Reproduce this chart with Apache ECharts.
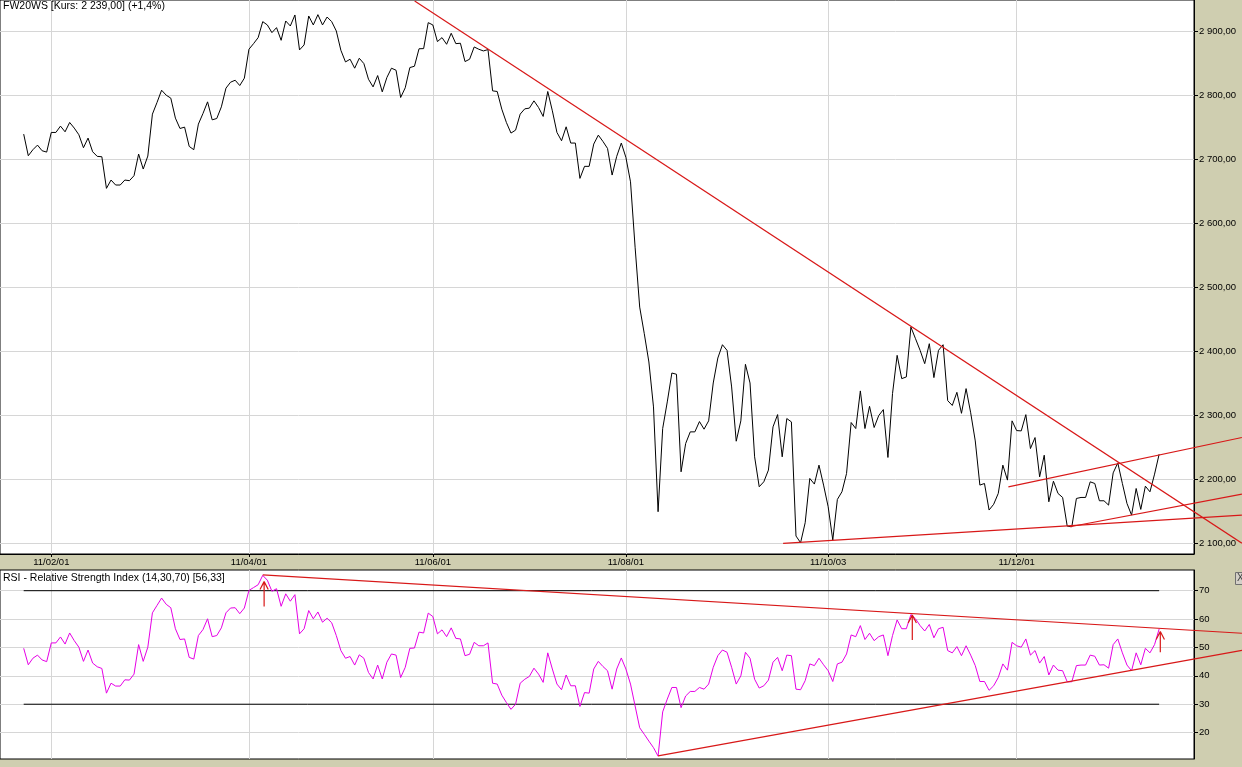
<!DOCTYPE html>
<html><head><meta charset="utf-8">
<script src="https://cdn.jsdelivr.net/npm/echarts@6/dist/echarts.min.js"></script>
<style>html,body{margin:0;padding:0;background:#CFCEB0;}#c{width:1242px;height:767px;}</style>
</head><body><div id="c"></div>
<script>
// ---- data (trading-day index on x) ----
const price = [
2739.6,2705.8,2715.2,2722.4,2713.6,2711.5,2742.2,2742.2,2752.1,2743.2,
2757.8,2749.0,2738.6,2718.3,2733.4,2712.0,2704.8,2704.2,2654.8,2667.8,
2660.0,2660.0,2667.8,2666.8,2674.6,2708.4,2685.0,2705.3,2770.8,2789.0,
2808.2,2800.4,2795.8,2764.6,2748.4,2750.5,2720.4,2715.2,2755.2,2771.8,
2790.0,2761.9,2764.0,2782.2,2811.4,2820.7,2823.8,2815.5,2827.0,2872.2,
2881.0,2890.4,2915.4,2910.2,2898.2,2906.0,2886.2,2916.4,2908.6,2925.8,
2871.2,2879.0,2924.2,2910.2,2926.3,2910.2,2922.6,2915.4,2900.8,2870.6,
2852.4,2856.6,2842.6,2858.2,2849.8,2825.4,2813.4,2831.1,2805.6,2828.0,
2842.6,2839.4,2796.8,2812.0,2843.6,2845.7,2873.0,2873.2,2913.8,2910.2,
2884.2,2890.4,2880.0,2897.2,2881.0,2881.6,2853.0,2856.6,2875.8,2872.2,
2869.6,2871.7,2807.2,2806.2,2778.6,2757.8,2741.2,2745.8,2770.8,2779.1,
2780.2,2791.6,2781.2,2767.2,2806.2,2776.0,2742.2,2729.2,2751.0,2725.6,
2725.6,2670.4,2689.2,2689.2,2724.0,2738.0,2728.2,2717.2,2675.6,2704.8,
2725.6,2703.2,2665.0,2562.8,2469.2,2427.6,2383.4,2313.2,2149.4,2279.4,
2321.0,2366.2,2364.2,2211.8,2256.0,2274.2,2274.2,2290.3,2278.4,2291.4,
2350.6,2389.6,2410.4,2401.6,2344.4,2259.6,2291.4,2379.8,2350.6,2235.2,
2188.4,2196.2,2214.4,2282.0,2301.2,2235.2,2295.0,2289.8,2111.4,2101.0,
2132.2,2201.4,2192.6,2222.2,2191.0,2157.2,2105.2,2168.6,2180.6,2209.2,
2288.8,2279.4,2338.2,2279.4,2314.2,2281.0,2299.7,2309.0,2234.2,2334.0,
2393.8,2357.4,2360.0,2438.0,2419.8,2401.6,2380.8,2412.0,2359.0,2401.6,
2410.4,2323.0,2315.5,2336.0,2303.2,2341.8,2304.0,2260.0,2191.0,2193.5,
2152.0,2161.0,2178.0,2222.2,2198.8,2291.4,2276.2,2275.7,2301.1,2248.1,
2265.3,2203.9,2237.7,2164.9,2197.1,2177.9,2171.7,2126.9,2125.9,2170.1,
2171.7,2171.7,2196.1,2193.5,2166.5,2166.5,2159.7,2210.1,2225.7,2193.5,
2162.3,2144.1,2185.7,2153.0,2189.3,2180.5,2208.1,2239.3];
const rsi = [
49.7,43.9,46.2,47.3,45.6,45.0,51.6,51.6,53.7,51.2,
55.1,52.4,50.1,45.1,49.1,44.5,43.2,42.6,33.9,37.4,
36.4,36.4,38.6,38.5,40.6,51.0,45.1,50.1,62.2,64.8,
67.4,65.2,64.0,56.6,52.8,53.0,46.5,45.9,54.2,56.3,
60.1,53.8,54.2,56.9,62.2,63.9,64.0,61.9,63.9,70.1,
71.1,72.1,75.4,73.7,69.8,70.7,64.5,68.9,66.3,68.6,
54.8,56.6,63.0,60.1,62.5,58.9,60.3,58.7,54.2,48.9,
46.2,46.8,43.8,47.4,46.2,41.2,38.9,43.8,38.9,44.8,
47.7,47.3,39.4,43.0,49.7,49.8,55.4,55.1,62.1,60.9,
54.8,56.2,53.8,56.9,53.2,53.0,47.1,47.6,51.8,50.6,
50.6,51.6,37.4,37.1,33.2,30.6,28.2,30.0,37.4,38.8,
39.8,42.7,40.6,37.7,48.1,42.4,37.1,35.1,40.3,36.5,
36.5,29.2,34.1,33.9,42.4,45.1,43.3,41.8,35.3,42.4,
46.3,42.4,37.1,29.4,21.7,19.4,17.0,14.7,11.7,27.3,
31.8,35.9,35.9,28.8,32.9,34.5,34.5,35.9,35.3,37.1,
43.0,47.1,49.1,48.3,43.0,37.1,40.0,48.3,46.2,38.8,
35.7,36.5,38.5,44.8,46.5,41.8,47.3,47.1,35.3,35.1,
38.3,44.2,43.6,46.2,43.9,41.8,38.0,44.2,44.8,47.7,
54.4,53.8,57.7,52.8,55.0,52.4,53.8,54.4,47.1,54.2,
59.7,56.6,56.6,61.6,60.1,57.7,55.8,58.1,53.4,56.6,
57.1,48.9,48.1,50.3,47.1,50.6,47.3,43.6,38.0,38.0,
34.9,36.5,39.4,44.2,42.0,51.8,50.6,50.1,53.0,47.3,
48.9,44.5,46.8,40.3,43.8,42.0,41.8,37.9,37.9,43.6,
43.8,43.8,47.3,46.9,43.8,43.9,42.7,51.0,53.0,48.1,
43.8,41.8,48.1,43.9,49.7,48.1,51.0,56.5];
const dateTickIndex = [6, 49, 89, 131, 175, 216];
const dateTickLabels = ['11/02/01','11/04/01','11/06/01','11/08/01','11/10/03','11/12/01'];
const priceTicks = [2100,2200,2300,2400,2500,2600,2700,2800,2900];
const rsiTicks = [20,30,40,50,60,70];
const rsiLevels = [30,70];
const priceTrendLines = [
  [[85.05,2947.6],[265.0,2100.2]],
  [[165.2,2100.0],[265.0,2144.1]],
  [[227.6,2125.9],[265.0,2176.9]],
  [[214.2,2188.3],[265.0,2265.4]]
];
const rsiTrendLines = [
  [[52.0,75.6],[265.0,55.0]],
  [[138.0,11.8],[265.0,49.0]]
];
const rsiArrows = [ [52.3,64.4,73.2], [193.3,52.6,61.4], [247.25,48.3,55.6] ]; // [index, from, tip]
const titleText = 'FW20WS [Kurs: 2 239,00] (+1,4%)';
const rsiTitleText = 'RSI - Relative Strength Index (14,30,70) [56,33]';

// ---- chart ----
const FONT = 'Liberation Sans';
const RED = '#D81818';
const GRIDC = '#D6D6D6';
const PLOT_W = 1194, FULL_W = 1242;
const xMin = -5.155, xMax = 254.58;
const xMaxFull = xMin + (xMax - xMin) * FULL_W / PLOT_W; // same scale, extended to the page edge
const pMin = 2083.3, pMax = 2949.2, rMin = 10.70, rMax = 77.29;
function fmtPrice(v){ const s = String(Math.round(v)); return s.slice(0,-3) + ' ' + s.slice(-3) + ',00'; }
const last = price.length - 1;

const series = [];
series.push({type:'line', xAxisIndex:0, yAxisIndex:0, data: price.map((v,i)=>[i,v]), symbol:'none',
  lineStyle:{color:'#000', width:1}, z:3});
priceTrendLines.forEach(l => series.push({type:'line', xAxisIndex:2, yAxisIndex:2, data:l, symbol:'none',
  lineStyle:{color:RED, width:1.2}, z:5}));
rsiLevels.forEach(lv => series.push({type:'line', xAxisIndex:1, yAxisIndex:1, data:[[0,lv],[last,lv]], symbol:'none',
  lineStyle:{color:'#000', width:1}, z:2}));
series.push({type:'line', xAxisIndex:1, yAxisIndex:1, data: rsi.map((v,i)=>[i,v]), symbol:'none',
  lineStyle:{color:'#E600E6', width:1}, z:3});
rsiTrendLines.forEach(l => series.push({type:'line', xAxisIndex:3, yAxisIndex:3, data:l, symbol:'none',
  lineStyle:{color:RED, width:1.2}, z:5}));
rsiArrows.forEach(a => {
  const [x, lo, tip] = a;
  series.push({type:'line', xAxisIndex:1, yAxisIndex:1, symbol:'none', clip:false,
    data:[[x,lo],[x,tip],[x-0.9,tip-2.8],[x,tip],[x+0.9,tip-2.8]],
    lineStyle:{color:RED, width:1.2}, z:6});
});

const hiddenAxis = {axisLine:{show:false}, axisTick:{show:false}, axisLabel:{show:false}, splitLine:{show:false}};
const option = {
  animation:false,
  backgroundColor:'#CFCEB0',
  title:[
    {text:titleText, left:3, top:1, padding:0, textStyle:{fontFamily:FONT, fontSize:10.5, fontWeight:'normal', color:'#000'}},
    {text:rsiTitleText, left:3, top:573, padding:0, textStyle:{fontFamily:FONT, fontSize:10.5, fontWeight:'normal', color:'#000'}}
  ],
  grid:[
    {left:0, top:-1, width:PLOT_W, height:555, show:true, backgroundColor:'#fff', borderColor:'#000', borderWidth:1},
    {left:0, top:570, width:PLOT_W, height:189, show:true, backgroundColor:'#fff', borderColor:'#000', borderWidth:1},
    {left:0, top:-1, width:FULL_W, height:555, show:false},
    {left:0, top:570, width:FULL_W, height:189, show:false}
  ],
  xAxis:[
    {type:'value', gridIndex:0, min:xMin, max:xMax,
      axisLine:{show:true, onZero:false, lineStyle:{color:'#000'}},
      axisTick:{show:true, customValues:dateTickIndex, length:3, lineStyle:{color:'#000'}},
      axisLabel:{customValues:dateTickIndex, margin:3, fontFamily:FONT, fontSize:9.5, color:'#000',
        formatter:v=>dateTickLabels[dateTickIndex.indexOf(Math.round(v))] || ''},
      splitLine:{show:true, lineStyle:{color:GRIDC, width:1}}},
    {type:'value', gridIndex:1, min:xMin, max:xMax,
      axisLine:{show:false, onZero:false}, axisTick:{show:false, customValues:dateTickIndex},
      axisLabel:{show:false, customValues:dateTickIndex},
      splitLine:{show:true, lineStyle:{color:GRIDC, width:1}}},
    Object.assign({type:'value', gridIndex:2, min:xMin, max:xMaxFull}, hiddenAxis),
    Object.assign({type:'value', gridIndex:3, min:xMin, max:xMaxFull}, hiddenAxis)
  ],
  yAxis:[
    {type:'value', gridIndex:0, position:'right', min:pMin, max:pMax, scale:true,
      axisLine:{show:true, onZero:false, lineStyle:{color:'#000'}},
      axisTick:{show:true, customValues:priceTicks, length:4, lineStyle:{color:'#000'}},
      axisLabel:{customValues:priceTicks, margin:5, formatter:fmtPrice, fontFamily:FONT, fontSize:9.5, color:'#000'},
      splitLine:{show:true, lineStyle:{color:GRIDC, width:1}}},
    {type:'value', gridIndex:1, position:'right', min:rMin, max:rMax, scale:true,
      axisLine:{show:true, onZero:false, lineStyle:{color:'#000'}},
      axisTick:{show:true, customValues:rsiTicks, length:4, lineStyle:{color:'#000'}},
      axisLabel:{customValues:rsiTicks, margin:5, fontFamily:FONT, fontSize:9.5, color:'#000'},
      splitLine:{show:true, lineStyle:{color:GRIDC, width:1}}},
    Object.assign({type:'value', gridIndex:2, min:pMin, max:pMax, scale:true}, hiddenAxis),
    Object.assign({type:'value', gridIndex:3, min:rMin, max:rMax, scale:true}, hiddenAxis)
  ],
  graphic:[
    {type:'rect', shape:{x:1235.5, y:572.5, width:10, height:12}, style:{fill:'#D4D0C8', stroke:'#707070', lineWidth:1}, z:10},
    {type:'text', x:1237, y:573, style:{text:'X', fontFamily:FONT, fontSize:10, fill:'#404040'}, z:11}
  ],
  series: series
};
const chart = echarts.init(document.getElementById('c'), null, {renderer:'canvas'});
chart.setOption(option);
</script></body></html>
